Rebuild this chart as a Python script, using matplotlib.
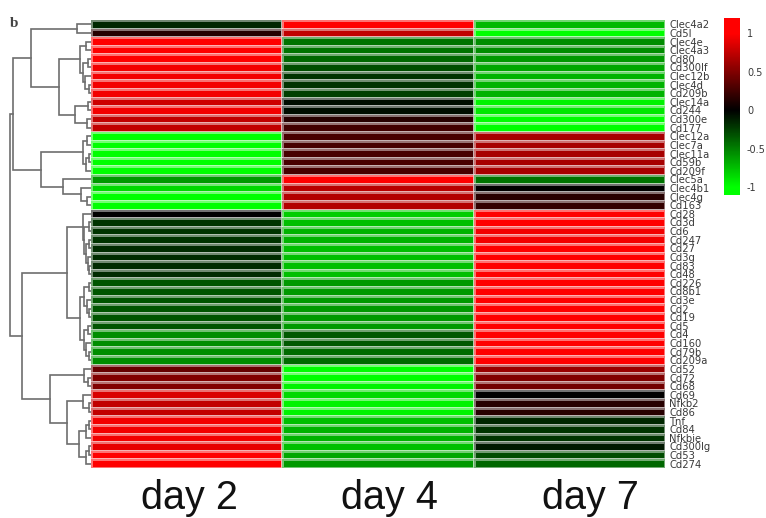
import numpy as np
import matplotlib
matplotlib.use("Agg")
import matplotlib.pyplot as plt
from matplotlib.colors import LinearSegmentedColormap, Normalize

# 基因名（从上到下）
genes = [
    "Clec4a2", "Cd5l", "Clec4e", "Clec4a3", "Cd80", "Cd300lf", "Clec12b", "Clec4d",
    "Cd209b", "Clec14a", "Cd244", "Cd300e", "Cd177", "Clec12a", "Clec7a", "Clec11a",
    "Cd59b", "Cd209f", "Clec5a", "Clec4b1", "Clec4g", "Cd163", "Cd28", "Cd3d",
    "Cd6", "Cd247", "Cd27", "Cd3g", "Cd83", "Cd48", "Cd226", "Cd8b1",
    "Cd3e", "Cd2", "Cd19", "Cd5", "Cd4", "Cd160", "Cd79b", "Cd209a",
    "Cd52", "Cd72", "Cd68", "Cd69", "Nfkb2", "Cd86", "Tnf", "Cd84",
    "Nfkbie", "Cd300lg", "Cd53", "Cd274",
]
days = ["day 2", "day 4", "day 7"]

# 标准化后的表达量
day2 = [
    -0.15, 0.15, 1, 1, 1, 0.95, 0.95, 0.95, 0.95, 0.8, 0.95, 0.75, 0.75,
    -1, -1, -1, -1, -1,
    -0.6, -0.85, -1, -1,
    0, -0.2, -0.2, -0.2, -0.17, -0.17, -0.17, -0.17,
    -0.33, -0.33, -0.33, -0.33, -0.33, -0.33,
    -0.55, -0.55, -0.55, -0.55,
    0.4, 0.5, 0.5, 0.85, 0.75, 0.75, 0.95, 0.95, 0.95, 0.9, 1, 1,
]
day4 = [
    1, 0.75, -0.45, -0.45, -0.4, -0.3, -0.2, -0.2, -0.25, -0.05, -0.05, 0.15, 0.25,
    0.28, 0.28, 0.28, 0.28, 0.28,
    1, 0.72, 0.7, 0.7,
    -0.8, -0.75, -0.7, -0.7, -0.75, -0.75, -0.75, -0.75,
    -0.6, -0.6, -0.6, -0.6, -0.6, -0.6,
    -0.35, -0.35, -0.42, -0.42,
    -1, -1, -0.95, -0.85, -0.95, -0.95, -0.75, -0.7, -0.7, -0.75, -0.65, -0.6,
]
day7 = [
    -0.72, -1, -0.55, -0.55, -0.6, -0.65, -0.7, -0.7, -0.7, -0.95, -0.9, -1, -1,
    0.65, 0.65, 0.65, 0.65, 0.65,
    -0.45, 0, 0.15, 0.2,
    1, 1, 0.95, 0.95, 1, 1, 1, 1,
    1, 1, 1, 1, 1, 1,
    1, 1, 1, 1,
    0.6, 0.5, 0.45, 0, 0.15, 0.15, -0.15, -0.2, -0.2, -0.1, -0.3, -0.4,
]

# 行聚类树：(左, 右, 高度)，叶子是行号
a1 = ((0, 1, 1.75),
      (((2, 3, 0.6), ((4, 5, 0.4), (6, (7, 8, 0.3), 0.7), 1.0), 1.4),
       ((9, 10, 0.4), (11, 12, 0.5), 2.0), 3.9),
      7.4)
a2 = (((13, 14, 0.5), ((15, 16, 0.3), 17, 0.6), 1.0),
      (18, (19, (20, 21, 0.5), 1.25), 3.4),
      6.1)
b1 = ((22, ((23, 24, 0.3), ((25, 26, 0.3), (27, (28, 29, 0.2), 0.4), 0.6), 0.8), 1.0),
      (((30, 31, 0.3), (32, (33, 34, 0.3), 0.5), 0.8),
       ((35, 36, 0.4), (37, (38, 39, 0.3), 0.6), 0.8), 1.4),
      2.9)
b2 = ((40, (41, 42, 0.4), 0.9),
      ((43, (44, 45, 0.3), 1.0),
       (((46, 47, 0.3), 48, 0.6), ((49, 50, 0.3), 51, 0.6), 1.5), 2.9),
      5.0)
tree = ((a1, a2, 9.6), (b1, b2, 8.5), 9.9)

W, H = 766, 518
cmap = LinearSegmentedColormap.from_list("gkr", ["#00ff00", "#000000", "#ff0000"])
norm = Normalize(vmin=-1, vmax=1)


def box(x0, y0, x1, y1):
    # 像素坐标 -> figure坐标
    return [x0 / W, 1 - y1 / H, (x1 - x0) / W, (y1 - y0) / H]


def draw_tree(ax, node):
    if isinstance(node, int):
        return node + 0.5, 0.0
    left, right, h = node
    yl, hl = draw_tree(ax, left)
    yr, hr = draw_tree(ax, right)
    ax.plot([hl, h, h, hr], [yl, yl, yr, yr], color="#6e6e6e", lw=1.2,
            solid_joinstyle="miter")
    return (yl + yr) / 2, h


fig = plt.figure(figsize=(W / 100, H / 100), dpi=100)

# 热图
ax = fig.add_axes(box(91, 20, 665, 468))
data = np.array([day2, day4, day7]).T
ax.pcolormesh(np.arange(len(days) + 1), np.arange(len(genes) + 1), data,
              cmap=cmap, norm=norm, edgecolors=(1, 1, 1, 0.45), linewidth=0.8)
ax.set_xlim(0, len(days))
ax.set_ylim(len(genes), 0)
ax.set_xticks([])
ax.yaxis.tick_right()
ax.set_yticks(np.arange(len(genes)) + 0.5)
ax.set_yticklabels(genes, fontsize=7.2, color="#3a3a3a")
ax.tick_params(axis="y", length=0, pad=3)
for s in ax.spines.values():
    s.set_visible(False)

# 聚类树
dax = fig.add_axes(box(7, 20, 91, 468))
draw_tree(dax, tree)
dax.set_xlim(10.3, 0)
dax.set_ylim(len(genes), 0)
dax.axis("off")

# 颜色条
cax = fig.add_axes(box(724, 18, 740, 195))
grad = np.linspace(-1.1, 1.2, 256)[:, None]
cax.imshow(grad, cmap=cmap, norm=norm, aspect="auto", origin="lower",
           extent=(0, 1, -1.1, 1.2))
cax.set_xticks([])
cax.yaxis.tick_right()
ticks = [1, 0.5, 0, -0.5, -1]
cax.set_yticks(ticks)
cax.set_yticklabels(["1", "0.5", "0", "-0.5", "-1"], fontsize=7, color="#3a3a3a")
cax.tick_params(axis="y", length=0, pad=5)
for s in cax.spines.values():
    s.set_visible(False)

# 列标签
for x, d in zip([189, 389, 590], days):
    fig.text(x / W, 1 - 509 / H, d, ha="center", va="baseline",
             fontsize=28.5, family="Liberation Sans", color="#111111")

fig.text(10 / W, 1 - 27 / H, "b", fontsize=11, family="Liberation Serif",
         fontweight="bold", color="#444444")

plt.savefig("out.png", dpi=100)
